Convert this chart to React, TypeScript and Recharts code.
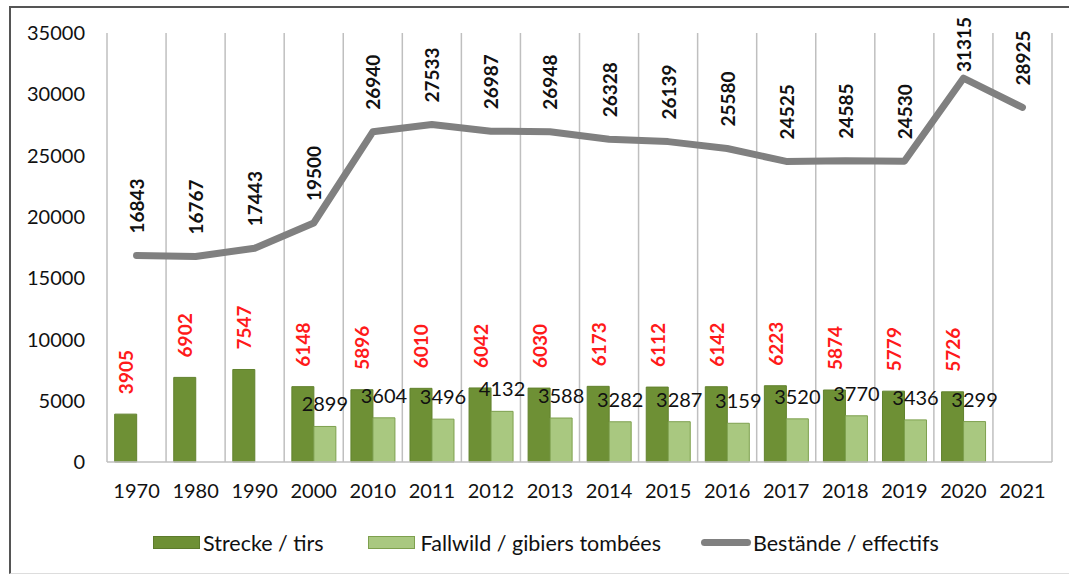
import { Bar, CartesianGrid, ComposedChart, LabelList, Legend, Line, XAxis, YAxis } from "recharts";

const years = ["1970", "1980", "1990", "2000", "2010", "2011", "2012", "2013", "2014", "2015", "2016", "2017", "2018", "2019", "2020", "2021"];
const strecke = [3905, 6902, 7547, 6148, 5896, 6010, 6042, 6030, 6173, 6112, 6142, 6223, 5874, 5779, 5726, null];
const fallwild = [null, null, null, 2899, 3604, 3496, 4132, 3588, 3282, 3287, 3159, 3520, 3770, 3436, 3299, null];
const bestaende = [16843, 16767, 17443, 19500, 26940, 27533, 26987, 26948, 26328, 26139, 25580, 24525, 24585, 24530, 31315, 28925];
const yTicks = [0, 5000, 10000, 15000, 20000, 25000, 30000, 35000];

const data = years.map((year, i) => ({
  year,
  strecke: strecke[i],
  fallwild: fallwild[i],
  bestaende: bestaende[i],
}));

const FONT = "Lato, 'Open Sans', sans-serif";
const DARK = "#6e9035";
const LIGHT = "#a9c880";
const LINE = "#808080";
const GRID = "#bfbfbf";

// rotated value label; minStart keeps it inside the chart at the top (like Excel does)
const RotatedLabel = (color: string, gap: number, minStart = 0) => (props: any) => {
  const { x, y, width, value } = props;
  if (value == null) return null;
  const cx = width != null ? x + width / 2 : x;
  const ty = Math.max(y - gap, minStart);
  return (
    <text
      x={cx}
      y={ty}
      transform={`rotate(-90, ${cx}, ${ty})`}
      textAnchor="start"
      dominantBaseline="central"
      fill={color}
      fontSize={19}
      fontWeight={700}
      fontFamily={FONT}
    >
      {value}
    </text>
  );
};

const FallwildLabel = (props: any) => {
  const { x, y, width, value } = props;
  if (value == null) return null;
  return (
    <text x={x + width / 2} y={y - 23} textAnchor="middle" dominantBaseline="central" fill="#111" fontSize={20} fontFamily={FONT}>
      {value}
    </text>
  );
};

const LegendContent = () => (
  <div style={{ display: "flex", alignItems: "center", paddingLeft: 153, paddingTop: 16, height: 45, boxSizing: "border-box", fontFamily: FONT, fontSize: 21.5, color: "#111" }}>
    <span style={{ display: "inline-block", width: 47, height: 13, background: DARK, border: "1px solid #5d7b2c", boxSizing: "border-box", marginRight: 3 }} />
    <span style={{ marginRight: 44 }}>Strecke / tirs</span>
    <span style={{ display: "inline-block", width: 47, height: 13, background: LIGHT, border: "1px solid #7ea04e", boxSizing: "border-box", marginRight: 6 }} />
    <span style={{ marginRight: 40 }}>Fallwild / gibiers tombées</span>
    <span style={{ display: "inline-block", width: 50, height: 7, background: LINE, borderRadius: 4, marginRight: 2 }} />
    <span>Bestände / effectifs</span>
  </div>
);

export default function App() {
  return (
    <div style={{ position: "absolute", left: 0, top: 0, width: 1069, height: 577, background: "#fff", overflow: "hidden" }}>
      <div
        style={{
          position: "absolute",
          left: 9,
          top: 6,
          width: 1070,
          height: 568,
          borderTop: "2px solid #555",
          borderLeft: "2px solid #555",
          borderBottom: "1px solid #ddd",
          boxSizing: "border-box",
        }}
      />
      <ComposedChart
        width={1069}
        height={577}
        data={data}
        margin={{ top: 33, right: 17, left: 0, bottom: 0 }}
        barCategoryGap="13%"
        barGap={0}
        style={{ position: "absolute", left: 0, top: 0 }}
      >
        <CartesianGrid
          horizontal={false}
          stroke={GRID}
          strokeWidth={1.5}
          verticalCoordinatesGenerator={({ offset }: any) =>
            years.map((_, i) => offset.left + (i * offset.width) / years.length).concat(offset.left + offset.width)
          }
        />
        <XAxis
          dataKey="year"
          tickLine={false}
          axisLine={{ stroke: GRID, strokeWidth: 1.5 }}
          height={50}
          tickMargin={16}
          tick={{ fill: "#111", fontSize: 20, fontFamily: FONT }}
        />
        <YAxis
          width={107}
          domain={[0, 35000]}
          ticks={yTicks}
          interval={0}
          axisLine={false}
          tickLine={false}
          tickMargin={16}
          tick={{ fill: "#111", fontSize: 20, fontFamily: FONT }}
        />
        <Legend verticalAlign="bottom" content={LegendContent} wrapperStyle={{ left: 0, width: 1069, height: 65 }} />
        <Bar dataKey="strecke" name="Strecke / tirs" fill={DARK} stroke="#62822e" strokeWidth={1} isAnimationActive={false}>
          <LabelList dataKey="strecke" content={RotatedLabel("#ff1a1a", 20)} />
        </Bar>
        <Bar dataKey="fallwild" name="Fallwild / gibiers tombées" fill={LIGHT} stroke="#7ea04e" strokeWidth={1} isAnimationActive={false}>
          <LabelList dataKey="fallwild" content={FallwildLabel} />
        </Bar>
        <Line
          dataKey="bestaende"
          name="Bestände / effectifs"
          type="linear"
          stroke={LINE}
          strokeWidth={7}
          strokeLinecap="round"
          strokeLinejoin="round"
          dot={false}
          isAnimationActive={false}
        >
          <LabelList dataKey="bestaende" content={RotatedLabel("#111", 22, 72)} />
        </Line>
      </ComposedChart>
    </div>
  );
}
